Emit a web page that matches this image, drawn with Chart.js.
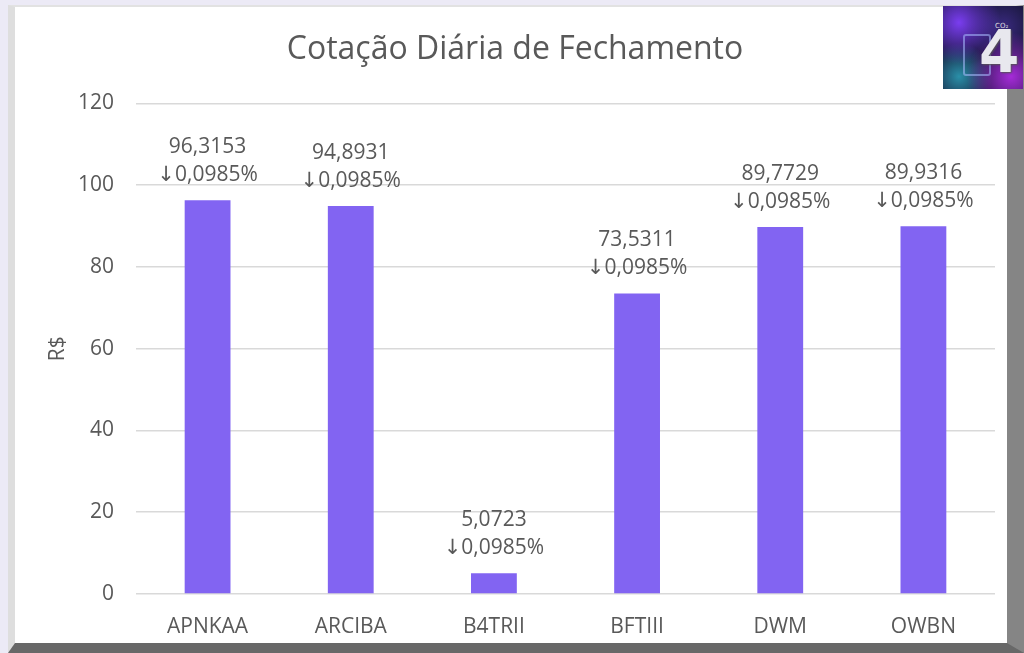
<!DOCTYPE html>
<html>
<head>
<meta charset="utf-8">
<script src="https://cdn.jsdelivr.net/npm/chart.js@4.4.1/dist/chart.umd.min.js"></script>
<style>
  html, body { margin: 0; padding: 0; }
  body { width: 1024px; height: 653px; background: #eceaf6; position: relative; overflow: hidden; }
  .frame {
    position: absolute; left: 8px; top: 5px; right: 0; bottom: 0;
    background: #fff;
    border-left: 7px solid #dedede;
    border-top: 2px solid #e2e2e2;
    border-right: 17px solid #858585;
    border-bottom: 10px solid #686868;
  }
  #chart { position: absolute; left: 0; top: 0; }
  .logo {
    position: absolute; left: 943px; top: 6px; width: 80px; height: 83px;
    background:
      radial-gradient(circle at 20% 20%, #7a3df0 0%, rgba(122,61,240,0) 45%),
      radial-gradient(circle at 85% 85%, #a52bd8 0%, rgba(165,43,216,0) 45%),
      radial-gradient(circle at 20% 85%, #2a8fa8 0%, rgba(42,143,168,0) 35%),
      radial-gradient(circle at 75% 25%, #3a2a80 0%, rgba(58,42,128,0) 40%),
      #141433;
    overflow: hidden;
  }
  .logo .box {
    position: absolute; left: 20px; top: 28px; width: 24px; height: 38px;
    border: 2px solid rgba(170,190,255,0.55); border-radius: 3px;
  }
  .logo .four {
    position: absolute; left: 36px; top: 12px;
    font: bold 58px "DejaVu Sans", sans-serif; color: #e8e8ee;
    text-shadow: 1px 1px 2px #555;
  }
  .logo .co2 {
    position: absolute; left: 52px; top: 16px;
    font: 7px "DejaVu Sans", sans-serif; color: #ddd;
  }
</style>
</head>
<body>
<div class="frame"></div>
<canvas id="chart" width="1024" height="653"></canvas>
<div class="logo"><div class="box"></div><span class="four">4</span><span class="co2">CO₂</span></div>
<script>
const tickers = ["APNKAA", "ARCIBA", "B4TRII", "BFTIII", "DWM", "OWBN"];
const closePrices = [96.3153, 94.8931, 5.0723, 73.5311, 89.7729, 89.9316];
const dailyChange = [-0.0985, -0.0985, -0.0985, -0.0985, -0.0985, -0.0985];
const yTicks = [0, 20, 40, 60, 80, 100, 120];

const textColor = "#595959";
const fontFamily = "'Open Sans', 'DejaVu Sans', sans-serif";

function fmt(v, d) {
  return v.toFixed(d).replace(".", ",");
}

// two-line value label above each bar
const barLabels = {
  id: "barLabels",
  afterDatasetsDraw(chart) {
    const ctx = chart.ctx;
    const meta = chart.getDatasetMeta(0);
    ctx.save();
    ctx.fillStyle = textColor;
    ctx.font = "21px " + fontFamily;
    ctx.textAlign = "center";
    ctx.textBaseline = "middle";
    meta.data.forEach((bar, i) => {
      const arrow = dailyChange[i] < 0 ? "↓" : "↑";
      ctx.fillText(fmt(closePrices[i], 4), bar.x, bar.y - 53);
      ctx.fillText(arrow + fmt(Math.abs(dailyChange[i]), 4) + "%", bar.x, bar.y - 25);
    });
    ctx.restore();
  }
};

new Chart(document.getElementById("chart"), {
  type: "bar",
  data: {
    labels: tickers,
    datasets: [{
      data: closePrices,
      backgroundColor: "#8264f2",
      categoryPercentage: 1,
      barPercentage: 0.32,
    }],
  },
  options: {
    responsive: false,
    animation: false,
    layout: { padding: { left: 35, right: 29, top: 0, bottom: 15 } },
    plugins: {
      legend: { display: false },
      tooltip: { enabled: false },
      title: {
        display: true,
        text: "Cotação Diária de Fechamento",
        color: textColor,
        font: { family: fontFamily, size: 32, weight: "normal", lineHeight: 1.2 },
        padding: { top: 31, bottom: 34 },
      },
    },
    scales: {
      x: {
        afterFit(scale) {
          scale.height = 44;
        },
        grid: { display: false, drawTicks: false },
        border: { display: false },
        ticks: { color: textColor, padding: 20, font: { family: fontFamily, size: 21 } },
      },
      y: {
        min: 0,
        max: 120,
        afterBuildTicks(scale) {
          scale.ticks = yTicks.map(v => ({ value: v }));
        },
        afterFit(scale) {
          scale.width = 101;
        },
        grid: { color: "#d9d9d9", lineWidth: 1.5, drawTicks: false },
        border: { display: false },
        ticks: { color: textColor, padding: 22, font: { family: fontFamily, size: 21 } },
        title: {
          display: true,
          text: "R$",
          color: textColor,
          font: { family: fontFamily, size: 21 },
          padding: { top: 10, bottom: 0 },
        },
      },
    },
  },
  plugins: [barLabels],
});
</script>
</body>
</html>
